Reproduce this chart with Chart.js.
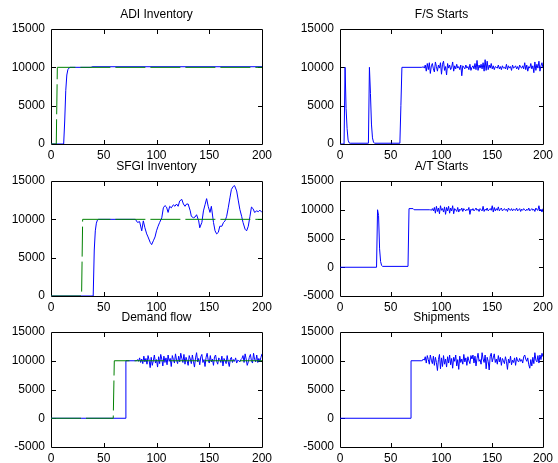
<!DOCTYPE html>
<html>
<head>
<meta charset="utf-8">
<script src="https://cdn.jsdelivr.net/npm/chart.js@4"></script>
<style>
  html, body { margin: 0; padding: 0; background: #fff; overflow: hidden; }
  #fig { position: relative; width: 558px; height: 463px; }
  canvas { position: absolute; }
</style>
</head>
<body>
<div id="fig">
  <canvas id="adi" width="279" height="165" style="left:0;top:0"></canvas>
  <canvas id="fs" width="269" height="165" style="left:289px;top:0"></canvas>
  <canvas id="sfgi" width="279" height="165" style="left:0;top:152px"></canvas>
  <canvas id="at" width="269" height="165" style="left:289px;top:152px"></canvas>
  <canvas id="df" width="279" height="165" style="left:0;top:303px"></canvas>
  <canvas id="sh" width="269" height="165" style="left:289px;top:303px"></canvas>
</div>
<script>
// --- Data ---
const xTicks = [0, 50, 100, 150, 200];

// ADI Inventory
const adiTargetX = [0, 5, 6, 200];
const adiTargetY = [0, 0, 10000, 10000];
const adiX = [0, 12, 13, 14, 15, 16, 17, 18, 38, 39, 200];
const adiY = [0, 0, 3000, 7000, 9000, 9700, 9900, 10000, 10000, 10080, 10080];

// F/S Starts
const fsX = [0, 4, 5, 6, 7, 8, 9, 10, 28, 29, 30, 31, 32, 33, 34, 59, 60, 61, 80];
const fsY = [0, 0, 10000, 4600, 2000, 500, 150, 100, 100, 10000, 6600, 2600, 800, 250, 100, 100, 5000, 10000, 10000];
const fsNoise = [ // x = 81..200
  10000, 10100, 9900, 10300, 9500, 10500, 9700, 10600, 9200, 10200,
  10500, 9800, 9400, 10700, 10100, 9500, 10300, 9900, 10600, 9100,
  10400, 10800, 9600, 10100, 9000, 10500, 9900, 10300, 9700, 10000,
  10700, 9500, 10200, 9800, 10400, 9900, 10100, 9700, 10300, 8900,
  10200, 10000, 9800, 10300, 9900, 10100, 9700, 10400, 9600, 10000,
  10200, 9800, 10500, 9700, 10900, 9600, 10300, 9900, 10400, 9800,
  10600, 9500, 11000, 9600, 10800, 9700, 10300, 9900, 10500, 9800,
  10200, 9700, 10100, 10000, 9900, 10300, 9800, 10100, 9700, 10200,
  9900, 10000, 9800, 10400, 9700, 10200, 9900, 10100, 9600, 10300,
  9900, 10000, 10200, 9800, 10100, 9700, 10300, 10000, 9900, 10200,
  9800, 10600, 9700, 10300, 9500, 10100, 9900, 10500, 9800, 10200,
  9300, 10700, 9600, 10400, 9900, 10800, 9500, 10200, 10600, 9900
];

// SFGI Inventory
const sfgiTargetX = [0, 29, 30, 200];
const sfgiTargetY = [0, 0, 10000, 10000];
const sfgiX = [0, 40, 41, 42, 43, 44, 45,
  80, 82, 84, 86, 87.5, 89, 90.7, 92, 94, 95.4,
  97, 98.6, 100, 101.5, 103, 105, 106.5, 108, 109.5, 111,
  112.5, 114, 116, 117.5, 119, 120.5, 122, 124, 125.5, 127,
  128.5, 130, 132, 133, 135, 136.5, 138, 140, 141, 143,
  144.5, 146, 147.5, 149, 150.7, 152, 154, 155.5, 157, 158.6,
  160, 162, 163.5, 165, 166.5, 168, 169.6, 171, 172.8, 174,
  176, 177.6, 179, 180.7, 182, 184, 185.4, 187, 188.6, 190,
  191.5, 193, 195, 196.5, 198, 200];
const sfgiY = [0, 0, 6000, 8500, 9500, 9900, 10000,
  10000, 9600, 9700, 8500, 9800, 8900, 8100, 7700, 7000, 6700,
  7200, 7700, 8500, 9100, 9600, 10200, 11500, 11800, 11600, 10900,
  11700, 11500, 11900, 11700, 12000, 11700, 12400, 12600, 12000, 11700,
  12000, 12000, 11100, 10400, 10200, 10300, 10600, 9800, 8900, 9600,
  11100, 11900, 12700, 11700, 10900, 11700, 9600, 8500, 8100, 8300,
  9100, 9100, 9600, 9800, 10400, 11500, 12800, 13900, 14300, 14400,
  13700, 12400, 11300, 10400, 9600, 8700, 8500, 9100, 10400, 11600,
  11400, 10900, 11100, 11000, 11200, 10900];

// A/T Starts
const atX = [0, 36, 37, 38, 39, 40, 41, 42, 67, 68, 72, 73, 88];
const atY = [0, 0, 10000, 9000, 3200, 1000, 300, 150, 150, 10200, 10200, 10000, 10000];
const atNoise = [ // x = 89..200
  10000, 9900, 10200, 9800, 10400, 9400, 10600, 9700, 10300, 9300,
  10700, 9900, 10200, 9600, 10500, 9200, 10400, 9800, 10600, 9400,
  10300, 9800, 10700, 9300, 10200, 10000, 9700, 10400, 9600, 10100,
  9900, 10300, 9700, 10200, 10000, 9800, 10100, 9900, 10400, 9200,
  10100, 9900, 10200, 9800, 10000, 10300, 9900, 10100, 9700, 10200,
  10000, 9800, 10600, 9700, 10100, 9900, 10300, 9800, 10000, 10200,
  9900, 10700, 9600, 10400, 9800, 10200, 9900, 10500, 9800, 10100,
  10300, 9800, 10000, 10200, 9900, 10100, 9700, 10300, 10000, 9900,
  10200, 9800, 10100, 10000, 9900, 10300, 9800, 10000, 10200, 9700,
  10100, 9900, 10200, 10000, 9800, 10100, 9900, 10300, 9800, 10000,
  10200, 9900, 10100, 9700, 10300, 10000, 9900, 10700, 9800, 10100,
  9600, 10200
];

// Demand flow
const dfTargetX = [0, 59, 60, 200];
const dfTargetY = [0, 0, 10000, 10000];
const dfX = [0, 71, 71, 80];
const dfY = [0, 0, 10000, 10000];
const dfNoise = [ // x = 81..200
  10000, 10200, 9900, 10500, 9700, 10300, 9500, 10800, 9800, 10400,
  9400, 10900, 10100, 8800, 10600, 9200, 10000, 11000, 9600, 10200,
  8900, 10700, 9500, 11100, 10300, 9100, 10800, 9700, 10500, 9300,
  11000, 9900, 10400, 9000, 10900, 10200, 9600, 11200, 10100, 9500,
  10800, 9800, 11300, 10400, 9700, 11100, 9400, 10600, 10000, 9200,
  10900, 10300, 9500, 11000, 9900, 8900, 10500, 11400, 9800, 10400,
  9300, 10700, 11100, 9700, 10200, 9000, 10600, 11300, 10100, 9600,
  10900, 9800, 10300, 9200, 10700, 11000, 9900, 9400, 10500, 10200,
  9700, 10800, 9100, 10400, 10000, 9500, 10900, 9800, 9000, 10300,
  10600, 9700, 10200, 9900, 10500, 9600, 10100, 10000, 9800, 10200,
  10400, 10900, 9700, 11200, 10300, 9200, 9800, 10600, 11100, 10000,
  9600, 11300, 10200, 9800, 11000, 9700, 10400, 9900, 10600, 11200
];

// Shipments
const shX = [0, 70, 70, 80];
const shY = [0, 0, 10000, 10000];
const shNoise = [ // x = 81..200
  10000, 10300, 10100, 10700, 9600, 10900, 10200, 9400, 11000, 10100,
  9500, 10800, 9200, 10600, 9700, 8300, 10200, 11100, 8600, 10500,
  9000, 10900, 9400, 10300, 8900, 10700, 9600, 11000, 9300, 10400,
  8700, 10600, 9900, 11000, 9100, 10200, 8500, 10800, 9700, 10300,
  9400, 11100, 9800, 10500, 9200, 10700, 10000, 9500, 10900, 10300,
  11000, 9600, 10800, 9100, 10400, 11300, 9900, 10200, 9400, 11400,
  10300, 9700, 11000, 8600, 10600, 9900, 8400, 10800, 11300, 9800,
  10500, 11200, 9700, 10300, 9400, 10900, 9800, 10600, 9200, 10400,
  10000, 9500, 10700, 9900, 8500, 10300, 9600, 10800, 9300, 10100,
  9700, 10500, 9200, 10600, 10000, 9800, 10400, 9900, 10200, 9600,
  10700, 11000, 10300, 9900, 10500, 9300, 8700, 10200, 9100, 10600,
  9500, 11400, 10100, 9800, 10900, 9600, 11000, 10200, 11300, 10700
];

// --- Helpers ---
const BLUE = '#0000ff';
const GREEN = '#008000';
const DASH = [30, 5];

function pts(xs, ys) {
  return xs.map((x, i) => ({ x: x, y: ys[i] }));
}

function noisy(start, ys) {
  return ys.map((y, i) => ({ x: start + i, y: y }));
}

// box round the axes with inward ticks on all four sides
const axesBox = {
  id: 'axesBox',
  beforeDatasetsDraw(chart) {
    const ctx = chart.ctx;
    const a = chart.chartArea;
    const xs = chart.scales.x;
    const ys = chart.scales.y;
    const tl = 4;
    ctx.save();
    ctx.strokeStyle = '#000';
    ctx.lineWidth = 1;
    ctx.beginPath();
    ctx.rect(a.left + 0.5, a.top + 0.5, a.right - a.left, a.bottom - a.top);
    xs.ticks.forEach(t => {
      const px = Math.round(xs.getPixelForValue(t.value)) + 0.5;
      ctx.moveTo(px, a.bottom); ctx.lineTo(px, a.bottom - tl);
      ctx.moveTo(px, a.top + 1); ctx.lineTo(px, a.top + 1 + tl);
    });
    ys.ticks.forEach(t => {
      const py = Math.round(ys.getPixelForValue(t.value)) + 0.5;
      ctx.moveTo(a.left + 1, py); ctx.lineTo(a.left + 1 + tl, py);
      ctx.moveTo(a.right, py); ctx.lineTo(a.right - tl, py);
    });
    ctx.stroke();
    ctx.restore();
  }
};

const FONT = { family: '"Liberation Sans", Arial, sans-serif', size: 12, weight: 'normal', lineHeight: '14px' };
Chart.defaults.color = '#000';

function makeChart(id, title, yMin, series, rightPad) {
  const datasets = series.map(s => ({
    data: s.data,
    borderColor: s.color,
    borderWidth: 1,
    borderDash: s.dash || [],
    pointRadius: 0,
    tension: 0,
    fill: false
  }));
  return new Chart(document.getElementById(id), {
    type: 'line',
    data: { datasets: datasets },
    options: {
      responsive: false,
      animation: false,
      events: [],
      layout: { autoPadding: false, padding: { left: 0, right: rightPad, top: 0, bottom: 0 } },
      plugins: {
        legend: { display: false },
        tooltip: { enabled: false },
        title: {
          display: true,
          text: title,
          fullSize: false,
          color: '#000',
          font: FONT,
          padding: { top: 8, bottom: 7 }
        }
      },
      scales: {
        x: {
          type: 'linear',
          min: 0, max: 200,
          afterFit: s => { s.height = 21; },
          afterBuildTicks: s => { s.ticks = xTicks.map(v => ({ value: v })); },
          grid: { display: false, drawTicks: false },
          border: { display: false },
          ticks: { font: FONT, padding: 5, maxRotation: 0, autoSkip: false, callback: v => String(v) }
        },
        y: {
          min: yMin, max: 15000,
          afterFit: s => { s.width = 51; },
          grid: { display: false, drawTicks: false },
          border: { display: false },
          ticks: { font: FONT, padding: 6, stepSize: 5000, autoSkip: false, callback: v => String(v) }
        }
      }
    },
    plugins: [axesBox]
  });
}

// --- Charts ---
makeChart('adi', 'ADI Inventory', 0, [
  { data: pts(adiTargetX, adiTargetY), color: GREEN, dash: DASH },
  { data: pts(adiX, adiY), color: BLUE }
], 17);

makeChart('fs', 'F/S Starts', 0, [
  { data: pts(fsX, fsY).concat(noisy(81, fsNoise)), color: BLUE }
], 8);

makeChart('sfgi', 'SFGI Inventory', 0, [
  { data: pts(sfgiTargetX, sfgiTargetY), color: GREEN, dash: DASH },
  { data: pts(sfgiX, sfgiY), color: BLUE }
], 17);

makeChart('at', 'A/T Starts', -5000, [
  { data: pts(atX, atY).concat(noisy(89, atNoise)), color: BLUE }
], 8);

makeChart('df', 'Demand flow', -5000, [
  { data: pts(dfTargetX, dfTargetY), color: GREEN, dash: DASH },
  { data: pts(dfX, dfY).concat(noisy(81, dfNoise)), color: BLUE }
], 17);

makeChart('sh', 'Shipments', -5000, [
  { data: pts(shX, shY).concat(noisy(81, shNoise)), color: BLUE }
], 8);
</script>
</body>
</html>
